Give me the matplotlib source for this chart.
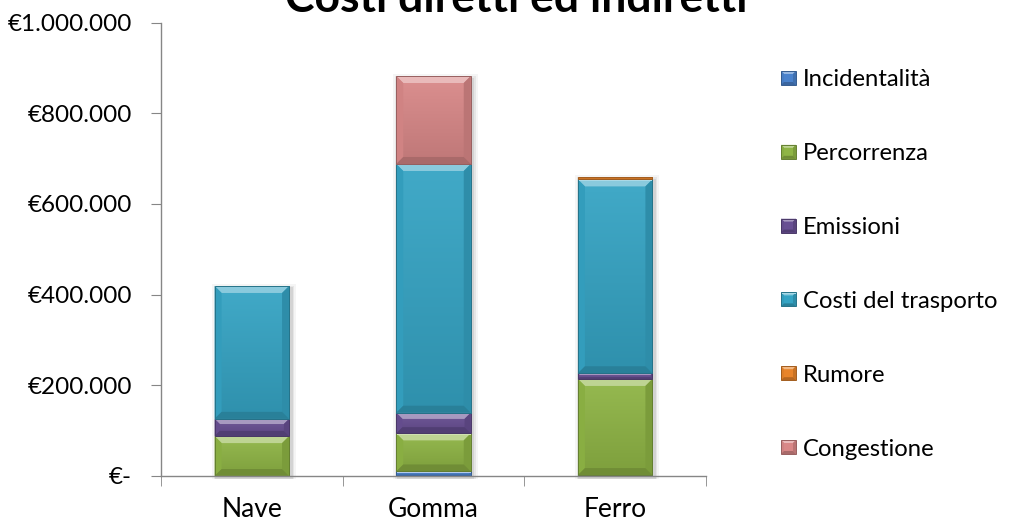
import numpy as np
import matplotlib
matplotlib.use("Agg")
import matplotlib.pyplot as plt
from matplotlib.colors import to_rgb, LinearSegmentedColormap
from matplotlib.patches import Polygon, Rectangle
from matplotlib.transforms import IdentityTransform
from matplotlib.ticker import FuncFormatter, FixedLocator

W, H, DPI = 1017, 529, 100

categories = ["Nave", "Gomma", "Ferro"]

# euro, una lista per voce di costo (ordine di impilamento dal basso)
incidentalita = [0, 10000, 2000]
percorrenza = [88000, 84000, 212000]
emissioni = [38000, 45500, 12500]
costi_trasporto = [293000, 548500, 427500]
rumore = [0, 0, 5000]
congestione = [0, 194000, 0]

series_names = ["Incidentalità", "Percorrenza", "Emissioni",
                "Costi del trasporto", "Rumore", "Congestione"]
series_values = [incidentalita, percorrenza, emissioni,
                 costi_trasporto, rumore, congestione]
series_colors = ["#4A82CC", "#8FB545", "#684F93",
                 "#35A4C4", "#E8842A", "#D98888"]

plt.rcParams["font.family"] = ["Lato", "DejaVu Sans"]

BAR_W = 0.41
AXIS_GREY = "#868686"


def mix(color, f):
    """f > 0 schiarisce verso il bianco, f < 0 scurisce verso il nero"""
    c = np.array(to_rgb(color))
    if f >= 0:
        return tuple(c + (1 - c) * f)
    return tuple(c * (1 + f))


def bevel(container, x0, y0, x1, y1, color, b, zorder, fill=False):
    """cornice a rilievo in coordinate pixel (y verso l'alto)"""
    tr = IdentityTransform()
    if fill:
        container.add_artist(Rectangle((x0, y0), x1 - x0, y1 - y0, facecolor=color,
                                       edgecolor="none", transform=tr, zorder=zorder - 0.01))
    parts = [
        ([(x0, y1), (x1, y1), (x1 - b, y1 - b), (x0 + b, y1 - b)], mix(color, 0.42)),
        ([(x0, y0), (x0, y1), (x0 + b, y1 - b), (x0 + b, y0 + b)], mix(color, -0.04)),
        ([(x1, y0), (x1, y1), (x1 - b, y1 - b), (x1 - b, y0 + b)], mix(color, -0.14)),
        ([(x0, y0), (x1, y0), (x1 - b, y0 + b), (x0 + b, y0 + b)], mix(color, -0.22)),
    ]
    for pts, c in parts:
        container.add_artist(Polygon(pts, closed=True, facecolor=c, edgecolor="none",
                                     transform=tr, zorder=zorder))
    # filo chiaro sul bordo superiore e filo scuro sul contorno
    container.add_artist(Polygon([(x0, y1), (x1, y1), (x1, y1 - 1.2), (x0, y1 - 1.2)],
                                 facecolor=mix(color, 0.58), edgecolor="none",
                                 transform=tr, zorder=zorder + 0.01))
    container.add_artist(Rectangle((x0, y0), x1 - x0, y1 - y0, facecolor="none",
                                   edgecolor=mix(color, -0.30), linewidth=0.7,
                                   transform=tr, zorder=zorder + 0.02))


fig = plt.figure(figsize=(W / DPI, H / DPI), dpi=DPI)
ax = fig.add_axes([161 / W, 1 - 476 / H, 545 / W, 453.5 / H])
x = np.arange(len(categories))
ax.set_xlim(-0.5, len(categories) - 0.5)
ax.set_ylim(0, 1000000)

totals = np.sum(series_values, axis=0)

# ombra leggera dietro ogni colonna (sotto le barre)
for xi, tot in zip(x, totals):
    (px0, py0), (px1, py1) = ax.transData.transform([(xi - BAR_W / 2, 0), (xi + BAR_W / 2, tot)])
    for k, a in [(5, 0.04), (3, 0.06), (1.5, 0.08)]:
        ax.add_artist(Rectangle((px0 - k + 2, py0 - 3), px1 - px0 + 2 * k, py1 - py0 + k,
                                facecolor="black", alpha=a, edgecolor="none",
                                transform=IdentityTransform(), zorder=1,
                                clip_on=False))

bottoms = np.zeros(len(categories))
grad = np.linspace(0, 1, 64).reshape(-1, 1)
for name, vals, col in zip(series_names, series_values, series_colors):
    bars = ax.bar(x, vals, BAR_W, bottom=bottoms, color=col, linewidth=0, zorder=2)
    cmap = LinearSegmentedColormap.from_list(name, [mix(col, -0.12), mix(col, 0.06)])
    for xi, v, b0, rect in zip(x, vals, bottoms, bars):
        if v <= 0:
            continue
        im = ax.imshow(grad, extent=[xi - BAR_W / 2, xi + BAR_W / 2, b0, b0 + v],
                       origin="lower", cmap=cmap, aspect="auto",
                       interpolation="bilinear", zorder=2.1)
        im.set_clip_path(rect)
        (px0, py0), (px1, py1) = ax.transData.transform([(xi - BAR_W / 2, b0),
                                                          (xi + BAR_W / 2, b0 + v)])
        bv = min(7.0, (py1 - py0) * 0.3)
        bevel(ax, px0, py0, px1, py1, col, bv, 2.2)
    bottoms = bottoms + np.array(vals)

ax.set_xlim(-0.5, len(categories) - 0.5)
ax.set_ylim(0, 1000000)

# assi
for s in ["top", "right"]:
    ax.spines[s].set_visible(False)
for s in ["left", "bottom"]:
    ax.spines[s].set_color(AXIS_GREY)
    ax.spines[s].set_linewidth(1.0)

ax.set_yticks(np.arange(0, 1000001, 200000))
ax.yaxis.set_major_formatter(FuncFormatter(
    lambda v, p: "€-" if v == 0 else "€" + f"{int(v):,}".replace(",", ".")))
ax.tick_params(axis="y", direction="out", length=7, color=AXIS_GREY,
               pad=14, labelsize=17.5)

ax.set_xticks(x)
ax.set_xticklabels(categories)
ax.xaxis.set_minor_locator(FixedLocator(np.arange(-0.5, len(categories), 1.0)))
ax.tick_params(axis="x", which="major", length=0, pad=15, labelsize=19)
ax.tick_params(axis="x", which="minor", direction="out", length=7, color=AXIS_GREY)

# legenda disegnata a mano
for i, (name, col) in enumerate(zip(series_names, series_colors)):
    yc = H - (78 + 73.8 * i)
    bevel(fig, 781, yc - 7, 796, yc + 7, col, 3, 3, fill=True)
    fig.text(803 / W, yc / H, name, ha="left", va="center_baseline", fontsize=17.2)

fig.text(0.508, 1 - 12 / H, "Costi diretti ed indiretti", ha="center",
         va="baseline", fontsize=32, fontweight="bold")

fig.savefig("out.png", dpi=DPI)
